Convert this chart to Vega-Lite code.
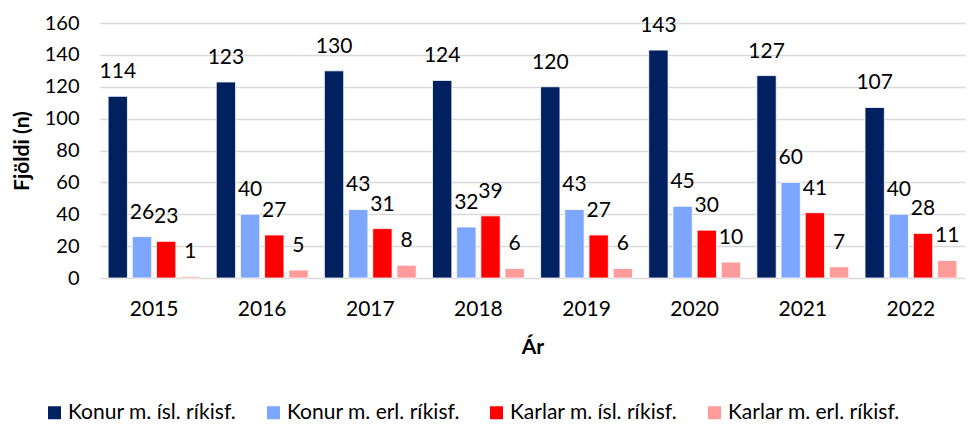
{
  "$schema": "https://vega.github.io/schema/vega-lite/v6.json",
  "autosize": {"type": "none"},
  "width": 865,
  "height": 255,
  "padding": {"left": 100, "top": 23, "right": 8, "bottom": 148},
  "background": "white",
  "config": {
    "font": "Lato",
    "view": {"stroke": null},
    "axis": {"labelFont": "Lato", "titleFont": "Lato", "labelColor": "#000000", "titleColor": "#000000"}
  },
  "data": {
    "values": [
      {"ar": "2015", "hopur": "Konur m. ísl. ríkisf.", "n": 114},
      {"ar": "2015", "hopur": "Konur m. erl. ríkisf.", "n": 26},
      {"ar": "2015", "hopur": "Karlar m. ísl. ríkisf.", "n": 23},
      {"ar": "2015", "hopur": "Karlar m. erl. ríkisf.", "n": 1},
      {"ar": "2016", "hopur": "Konur m. ísl. ríkisf.", "n": 123},
      {"ar": "2016", "hopur": "Konur m. erl. ríkisf.", "n": 40},
      {"ar": "2016", "hopur": "Karlar m. ísl. ríkisf.", "n": 27},
      {"ar": "2016", "hopur": "Karlar m. erl. ríkisf.", "n": 5},
      {"ar": "2017", "hopur": "Konur m. ísl. ríkisf.", "n": 130},
      {"ar": "2017", "hopur": "Konur m. erl. ríkisf.", "n": 43},
      {"ar": "2017", "hopur": "Karlar m. ísl. ríkisf.", "n": 31},
      {"ar": "2017", "hopur": "Karlar m. erl. ríkisf.", "n": 8},
      {"ar": "2018", "hopur": "Konur m. ísl. ríkisf.", "n": 124},
      {"ar": "2018", "hopur": "Konur m. erl. ríkisf.", "n": 32},
      {"ar": "2018", "hopur": "Karlar m. ísl. ríkisf.", "n": 39},
      {"ar": "2018", "hopur": "Karlar m. erl. ríkisf.", "n": 6},
      {"ar": "2019", "hopur": "Konur m. ísl. ríkisf.", "n": 120},
      {"ar": "2019", "hopur": "Konur m. erl. ríkisf.", "n": 43},
      {"ar": "2019", "hopur": "Karlar m. ísl. ríkisf.", "n": 27},
      {"ar": "2019", "hopur": "Karlar m. erl. ríkisf.", "n": 6},
      {"ar": "2020", "hopur": "Konur m. ísl. ríkisf.", "n": 143},
      {"ar": "2020", "hopur": "Konur m. erl. ríkisf.", "n": 45},
      {"ar": "2020", "hopur": "Karlar m. ísl. ríkisf.", "n": 30},
      {"ar": "2020", "hopur": "Karlar m. erl. ríkisf.", "n": 10},
      {"ar": "2021", "hopur": "Konur m. ísl. ríkisf.", "n": 127},
      {"ar": "2021", "hopur": "Konur m. erl. ríkisf.", "n": 60},
      {"ar": "2021", "hopur": "Karlar m. ísl. ríkisf.", "n": 41},
      {"ar": "2021", "hopur": "Karlar m. erl. ríkisf.", "n": 7},
      {"ar": "2022", "hopur": "Konur m. ísl. ríkisf.", "n": 107},
      {"ar": "2022", "hopur": "Konur m. erl. ríkisf.", "n": 40},
      {"ar": "2022", "hopur": "Karlar m. ísl. ríkisf.", "n": 28},
      {"ar": "2022", "hopur": "Karlar m. erl. ríkisf.", "n": 11}
    ]
  },
  "encoding": {
    "x": {
      "field": "ar", "type": "nominal",
      "scale": {"paddingInner": 0.15, "paddingOuter": 0.075},
      "axis": {
        "title": "Ár", "titleFontSize": 21, "titleFontWeight": "bold", "titlePadding": 17,
        "labelAngle": 0, "labelFontSize": 21, "labelPadding": 20,
        "ticks": false, "domain": false, "grid": false
      }
    },
    "xOffset": {
      "field": "hopur", "type": "nominal",
      "sort": ["Konur m. ísl. ríkisf.", "Konur m. erl. ríkisf.", "Karlar m. ísl. ríkisf.", "Karlar m. erl. ríkisf."],
      "scale": {"paddingInner": 0.2, "paddingOuter": 0}
    },
    "y": {
      "field": "n", "type": "quantitative",
      "scale": {"domain": [0, 160], "nice": false},
      "axis": {
        "title": "Fjöldi (n)", "titleFontSize": 21, "titleFontWeight": "bold", "titlePadding": 12,
        "values": [0, 20, 40, 60, 80, 100, 120, 140, 160],
        "labelFontSize": 20, "labelPadding": 21,
        "ticks": false, "domain": false,
        "grid": true, "gridColor": "#d9d9d9", "gridWidth": 1.5
      }
    }
  },
  "layer": [
    {
      "mark": {"type": "bar", "stroke": "white", "strokeWidth": 0.8},
      "encoding": {
        "color": {
          "field": "hopur", "type": "nominal",
          "sort": ["Konur m. ísl. ríkisf.", "Konur m. erl. ríkisf.", "Karlar m. ísl. ríkisf.", "Karlar m. erl. ríkisf."],
          "scale": {
            "domain": ["Konur m. ísl. ríkisf.", "Konur m. erl. ríkisf.", "Karlar m. ísl. ríkisf.", "Karlar m. erl. ríkisf."],
            "range": ["#002060", "#7DA7FF", "#FF0000", "#FF9B9B"]
          },
          "legend": {
            "title": null, "orient": "none", "direction": "horizontal",
            "legendX": -56, "legendY": 379,
            "symbolType": "square", "symbolSize": 169, "symbolStrokeWidth": 0,
            "labelFontSize": 21, "labelColor": "#000000", "labelFont": "Lato", "labelLimit": 0,
            "columnPadding": 26, "labelOffset": 3
          }
        }
      }
    },
    {
      "mark": {"type": "text", "baseline": "middle", "dy": -24, "fontSize": 21, "color": "#000000"},
      "encoding": {
        "text": {"field": "n", "type": "quantitative"}
      }
    }
  ]
}
